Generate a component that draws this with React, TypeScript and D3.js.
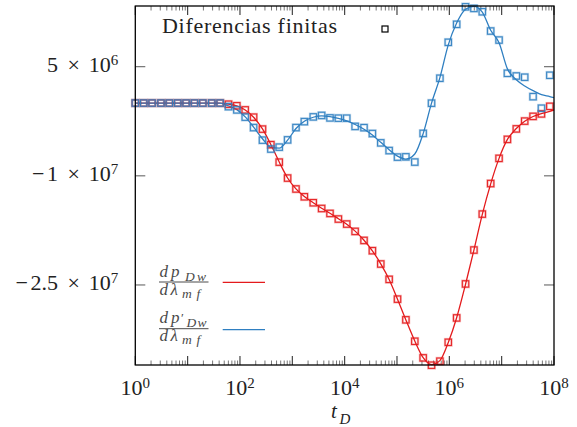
import React from 'react';
import * as d3 from 'd3';

// log10(t_D) at which the finite-difference derivatives were evaluated
const tDExponents = [
  0.00, 0.16, 0.32, 0.49, 0.65, 0.81, 0.97, 1.13, 1.29, 1.46,
  1.62, 1.78, 1.94, 2.10, 2.26, 2.43, 2.59, 2.75, 2.91, 3.07,
  3.23, 3.40, 3.56, 3.72, 3.88, 4.04, 4.20, 4.37, 4.53, 4.69,
  4.85, 5.01, 5.17, 5.34, 5.50, 5.66, 5.82, 5.98, 6.14, 6.31,
  6.47, 6.63, 6.79, 6.95, 7.11, 7.28, 7.44, 7.60, 7.76, 7.92,
];
// analytic curves are sampled at the same times plus the end of the range
const lineExponents = [...tDExponents, 8.0];

// dp_Dw/dλ_mf, in units of 10^6
const redLine = [
  0, 0, 0, 0, 0, 0, 0, 0, 0, 0, 0,
  -0.15, -0.4, -0.95, -1.95, -3.55, -5.7, -8.1, -10.3, -11.8, -12.85,
  -13.7, -14.45, -15.15, -15.9, -16.65, -17.6, -18.85, -20.3, -22.1, -24.25,
  -26.95, -29.8, -32.7, -35.0, -35.95, -35.4, -32.9, -29.5, -24.9, -20.2,
  -15.3, -11.1, -7.6, -5.0, -3.5, -2.5, -1.85, -1.45, -1.15, -0.95,
];
// dp'_Dw/dλ_mf, in units of 10^6
const blueLine = [
  0, 0, 0, 0, 0, 0, 0, 0, 0, 0, 0,
  -0.4, -0.9, -1.9, -3.3, -4.9, -6.1, -6.2, -5.1, -3.5, -2.5,
  -1.95, -1.75, -1.85, -2.1, -2.45, -2.95, -3.6, -4.4, -5.4, -6.4,
  -7.3, -7.7, -7.0, -4.2, 0.0, 3.5, 8.0, 11.0, 12.9, 13.3,
  12.5, 10.0, 8.3, 4.7, 3.2, 2.35, 1.7, 1.15, 0.9, 0.75,
];

// finite-difference estimates, in units of 10^6
const redFD = [
  0, 0, 0, 0, 0, 0, 0, 0, 0, 0, 0,
  -0.16, -0.37, -0.94, -1.94, -3.58, -5.72, -8.12, -10.31, -11.81, -12.88,
  -13.70, -14.49, -15.17, -15.94, -16.63, -17.64, -18.88, -20.29, -22.12, -24.23,
  -26.95, -29.79, -32.74, -35.02, -36.03, -35.48, -32.88, -29.53, -24.86, -20.20,
  -15.26, -11.06, -7.60, -4.99, -3.55, -2.48, -1.83, -1.49, -0.45,
];
const blueFD = [
  0, 0, 0, 0, 0, 0, 0, 0, 0, 0, 0,
  -0.49, -0.94, -1.94, -3.37, -5.10, -6.32, -6.06, -5.06, -3.37, -2.55,
  -1.90, -1.70, -2.04, -2.08, -2.08, -3.21, -3.38, -4.19, -5.47, -6.53,
  -7.43, -7.39, -8.11, -4.17, -0.02, 3.41, 8.35, 10.82, 13.23, 13.01,
  12.55, 9.90, 8.66, 4.09, 3.72, 3.55, 0.88, -0.71, 3.82,
];

const UNIT = 1e6;
const xTickExponents = [0, 2, 4, 6, 8];
const yTickValues = [5, -10, -25];
const yDomain = [-36.0, 13.34];

const RED = '#e41a1c';
const BLUE = '#2f7fc1';
const FONT = '"Liberation Serif", "Times New Roman", serif';

const W = 577;
const H = 427;
const plot = { left: 135.3, right: 554, top: 6, bottom: 365 };

const x = d3.scaleLog().domain([1, 1e8]).range([plot.left, plot.right]);
const y = d3.scaleLinear().domain(yDomain).range([plot.bottom, plot.top]);

function sciParts(v: number) {
  const e = Math.floor(Math.log10(Math.abs(v)) + 1e-9);
  const m = v / Math.pow(10, e);
  return { sign: m < 0 ? '\u2212' : '', m: String(Math.abs(m)), e };
}

function Markers({ values, color }: { values: number[]; color: string }) {
  const s = 6.4;
  return (
    <g fill="none" stroke={color}>
      {values.map((v, i) => {
        const cx = x(Math.pow(10, tDExponents[i]));
        const cy = y(v);
        return (
          <g key={i}>
            <rect x={cx - s / 2} y={cy - s / 2} width={s} height={s} strokeWidth={2.4} strokeOpacity={0.3} />
            <rect x={cx - s / 2} y={cy - s / 2} width={s} height={s} strokeWidth={1.1} strokeOpacity={0.9} />
          </g>
        );
      })}
    </g>
  );
}

// d p(′)_{Dw} / d λ_{mf}, typeset glyph by glyph
function Fraction({ barY, prime, color }: { barY: number; prime: boolean; color: string }) {
  const num = barY - 5.5;
  const den = barY + 12.5;
  return (
    <g fill={color} fontStyle="italic">
      <text y={num} fontSize={17}>
        <tspan x={159.5}>d</tspan>
        <tspan x={171}>p</tspan>
        {prime ? <tspan x={181} dy={-1} fontSize={13} fontStyle="normal">′</tspan> : null}
      </text>
      <text y={num + 4} fontSize={13.5}>
        <tspan x={prime ? 186.5 : 185}>D</tspan>
        <tspan x={prime ? 197.5 : 197}>w</tspan>
      </text>
      <line x1={159} x2={208.5} y1={barY} y2={barY} stroke={color} strokeWidth={1} />
      <text y={den} fontSize={17}>
        <tspan x={159.5}>d</tspan>
        <tspan x={170.5}>λ</tspan>
      </text>
      <text y={den + 3} fontSize={13.5}>
        <tspan x={182}>m</tspan>
        <tspan x={196.5}>f</tspan>
      </text>
    </g>
  );
}

export default function App() {
  const line = d3
    .line<number>()
    .x((_, i) => x(Math.pow(10, lineExponents[i])))
    .y((v) => y(v))
    .curve(d3.curveMonotoneX);

  const majorDecades = d3.range(0, 9);
  const minorTicks: number[] = [];
  for (let d = 0; d < 8; d++) for (let k = 2; k <= 9; k++) minorTicks.push(k * Math.pow(10, d));

  const fracColor = '#4a4a4a';

  return (
    <svg width={W} height={H} style={{ position: 'absolute', left: 0, top: 0, background: '#fff' }} fontFamily={FONT}>
      <defs>
        <clipPath id="plotClip">
          <rect x={plot.left} y={plot.top - 1} width={plot.right - plot.left} height={plot.bottom - plot.top + 2} />
        </clipPath>
      </defs>

      {/* x ticks, bottom and top, inward */}
      <g>
        {minorTicks.map((t) => (
          <g key={'m' + t} stroke="#777" strokeWidth={1}>
            <line x1={x(t)} x2={x(t)} y1={plot.bottom} y2={plot.bottom - 4.5} />
            <line x1={x(t)} x2={x(t)} y1={plot.top} y2={plot.top + 4.5} />
          </g>
        ))}
        {majorDecades.map((d) => (
          <g key={'M' + d} stroke="#333" strokeWidth={1.1}>
            <line x1={x(10 ** d)} x2={x(10 ** d)} y1={plot.bottom} y2={plot.bottom - 9} />
            <line x1={x(10 ** d)} x2={x(10 ** d)} y1={plot.top} y2={plot.top + 9} />
          </g>
        ))}
      </g>

      {/* y ticks, left and right, inward */}
      <g stroke="#666" strokeWidth={1.1}>
        {yTickValues.map((v) => (
          <g key={v}>
            <line x1={plot.left} x2={plot.left + 10} y1={y(v)} y2={y(v)} />
            <line x1={plot.right} x2={plot.right - 10} y1={y(v)} y2={y(v)} />
          </g>
        ))}
      </g>

      {/* curves */}
      <g clipPath="url(#plotClip)" fill="none" strokeWidth={1.3}>
        <path d={line(redLine) || ''} stroke={RED} />
        <path d={line(blueLine) || ''} stroke={BLUE} />
      </g>

      {/* finite differences */}
      <Markers values={redFD} color={RED} />
      <Markers values={blueFD} color={BLUE} />

      {/* frame */}
      <rect x={plot.left} y={plot.top} width={plot.right - plot.left} height={plot.bottom - plot.top}
        fill="none" stroke="#000" strokeWidth={1.3} />

      {/* x tick labels */}
      <g fill="#222" fontSize={22}>
        {xTickExponents.map((e) => (
          <text key={e} x={x(10 ** e)} y={395} textAnchor="middle">
            10<tspan dy={-7.5} fontSize={15}>{e}</tspan>
          </text>
        ))}
      </g>

      {/* y tick labels */}
      <g fill="#222" fontSize={22}>
        {yTickValues.map((v) => {
          const { sign, m, e } = sciParts(v * UNIT);
          return (
            <text key={v} x={plot.left - 17} y={y(v) + 5.5} textAnchor="end">
              {sign ? <tspan>{sign}</tspan> : null}
              <tspan dx={sign ? 2.5 : 0}>{m}</tspan>
              <tspan dx={9.5}>×</tspan>
              <tspan dx={9}>10</tspan>
              <tspan dy={-7.5} fontSize={15}>{e}</tspan>
            </text>
          );
        })}
      </g>

      {/* x axis title */}
      <g fill="#222" fontStyle="italic">
        <text x={331} y={418} fontSize={21}>t</text>
        <text x={339.5} y={424} fontSize={15}>D</text>
      </g>

      {/* top legend */}
      <text x={162} y={33} fontSize={22} fill="#222" textLength={175} lengthAdjust="spacing">Diferencias finitas</text>
      <rect x={385 - 3} y={29 - 3} width={6} height={6} fill="none" stroke="#000" strokeWidth={1.2} />

      {/* curve legend */}
      <Fraction barY={282} prime={false} color={fracColor} />
      <Fraction barY={328.7} prime={true} color={fracColor} />
      <line x1={222.7} x2={265} y1={282.3} y2={282.3} stroke={RED} strokeWidth={1.3} />
      <line x1={222.7} x2={265} y1={329.7} y2={329.7} stroke={BLUE} strokeWidth={1.3} />
    </svg>
  );
}
